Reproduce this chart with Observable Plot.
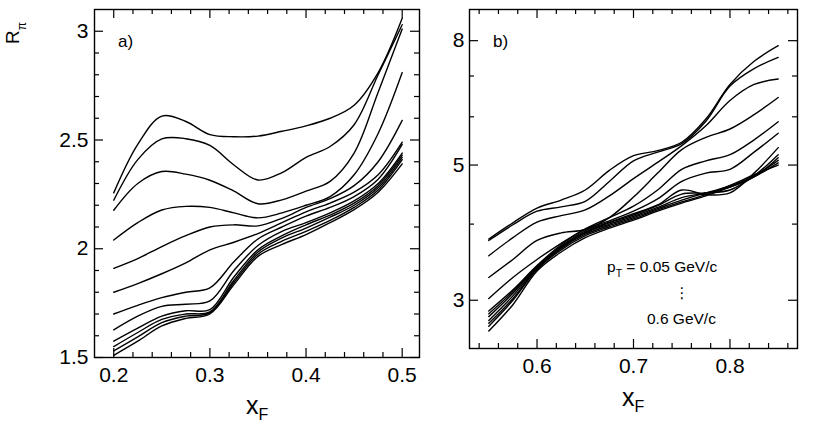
<!DOCTYPE html>
<html><head><meta charset="utf-8">
<script src="https://cdn.jsdelivr.net/npm/d3@7"></script>
<script src="https://cdn.jsdelivr.net/npm/@observablehq/plot@0.6"></script>
<style>
body{margin:0;background:#fff;}
#wrap{position:relative;width:817px;height:431px;overflow:hidden;background:#fff;}
#wrap svg{position:absolute;top:0;}
</style></head><body><div id="wrap"></div>
<script>
// ---- data ----
const ptLabels = ["0.05","0.10","0.15","0.20","0.25","0.30","0.35","0.40","0.45","0.50","0.55","0.60"];

// panel a) : x_F grid and R_pi per pT
const xA = [0.2,0.225,0.25,0.275,0.3,0.325,0.35,0.375,0.4,0.425,0.45,0.475,0.5];
const a01 = [2.257,2.48,2.61,2.585,2.525,2.515,2.518,2.54,2.565,2.6,2.66,2.81,3.06];
const a02 = [2.223,2.41,2.505,2.506,2.475,2.385,2.316,2.35,2.42,2.47,2.57,2.80,3.03];
const a03 = [2.177,2.30,2.355,2.343,2.315,2.265,2.207,2.225,2.265,2.31,2.44,2.72,3.01];
const a04 = [2.04,2.12,2.178,2.195,2.19,2.165,2.142,2.165,2.2,2.24,2.34,2.53,2.81];
const a05 = [1.91,1.955,2.01,2.06,2.10,2.11,2.105,2.14,2.19,2.23,2.29,2.40,2.59];
const a06 = [1.80,1.84,1.885,1.935,1.995,2.03,2.07,2.12,2.17,2.21,2.26,2.34,2.49];
const a07 = [1.70,1.74,1.775,1.80,1.82,1.94,2.045,2.10,2.15,2.19,2.24,2.32,2.48];
const a08 = [1.627,1.69,1.735,1.745,1.76,1.90,2.015,2.08,2.12,2.165,2.22,2.30,2.44];
const a09 = [1.575,1.635,1.69,1.715,1.72,1.87,1.995,2.06,2.11,2.155,2.21,2.29,2.43];
const a10 = [1.55,1.615,1.675,1.70,1.71,1.855,1.985,2.05,2.095,2.145,2.20,2.28,2.42];
const a11 = [1.53,1.595,1.66,1.69,1.705,1.845,1.975,2.035,2.08,2.13,2.19,2.27,2.41];
const a12 = [1.51,1.575,1.645,1.68,1.70,1.835,1.965,2.02,2.065,2.12,2.18,2.26,2.39];

// panel b)
const xB = [0.55,0.575,0.6,0.625,0.65,0.675,0.7,0.725,0.75,0.775,0.8,0.825,0.85];
const b01 = [3.78,4.02,4.25,4.38,4.55,4.9,5.18,5.28,5.45,5.95,6.78,7.4,7.85];
const b02 = [3.76,3.99,4.2,4.27,4.36,4.7,5.08,5.25,5.42,5.9,6.74,7.2,7.51];
const b03 = [3.55,3.8,4.03,4.13,4.22,4.45,4.75,5.05,5.38,5.8,6.38,6.78,6.92];
const b04 = [3.27,3.5,3.76,3.87,3.92,4.1,4.43,4.85,5.3,5.55,5.73,6.05,6.455];
const b05 = [3.02,3.27,3.5,3.72,3.93,4.1,4.28,4.55,4.92,5.08,5.2,5.5,5.89];
const b06 = [2.88,3.12,3.42,3.7,3.92,4.05,4.2,4.4,4.7,4.85,4.92,5.25,5.64];
const b07 = [2.85,3.1,3.41,3.68,3.9,4.03,4.16,4.3,4.55,4.47,4.5,4.85,5.34];
const b08 = [2.82,3.08,3.4,3.67,3.88,4.02,4.14,4.29,4.48,4.5,4.55,4.8,5.2];
const b09 = [2.78,3.05,3.39,3.66,3.87,4.0,4.12,4.26,4.42,4.5,4.6,4.78,5.14];
const b10 = [2.75,3.02,3.38,3.65,3.85,3.98,4.1,4.24,4.38,4.5,4.62,4.8,5.09];
const b11 = [2.72,3.0,3.37,3.63,3.83,3.96,4.08,4.22,4.35,4.47,4.63,4.82,5.0];
const b12 = [2.67,2.95,3.35,3.6,3.8,3.94,4.06,4.2,4.33,4.45,4.6,4.78,5.04];

// ticks
const xMajorA = [0.2,0.3,0.4,0.5];
const xMinorA = [0.22,0.24,0.26,0.28,0.32,0.34,0.36,0.38,0.42,0.44,0.46,0.48];
const yMajorA = [1.5,2,2.5,3];
const yMinorA = [1.6,1.7,1.8,1.9,2.1,2.2,2.3,2.4,2.6,2.7,2.8,2.9];
const xMajorB = [0.6,0.7,0.8];
const xMinorB = [0.54,0.56,0.58,0.62,0.64,0.66,0.68,0.72,0.74,0.76,0.78,0.82,0.84,0.86];
const yMajorB = [3,5,8];
const yMinorB = [4,6,7];

// ---- build tables ----
function toRows(xs, list) {
  const rows = [];
  list.forEach((ys, i) => ys.forEach((y, j) => rows.push({pt: ptLabels[i], x: xs[j], y})));
  return rows;
}
const rowsA = toRows(xA, [a01,a02,a03,a04,a05,a06,a07,a08,a09,a10,a11,a12]);
const rowsB = toRows(xB, [b01,b02,b03,b04,b05,b06,b07,b08,b09,b10,b11,b12]);

const FONT = "'Liberation Sans', Arial, Helvetica, sans-serif";

function panel(o) {
  const H = o.height - o.mt - o.mb;
  const W = o.width - o.ml - o.mr;
  const tk = {stroke: "black", strokeWidth: 1.2};
  return Plot.plot({
    width: o.width, height: o.height,
    marginLeft: o.ml, marginRight: o.mr, marginTop: o.mt, marginBottom: o.mb,
    x: {domain: o.xDomain, label: null},
    y: Object.assign({label: null}, o.yScale),
    style: {fontFamily: FONT, fontSize: "21px", color: "black", background: "white", overflow: "visible"},
    marks: [
      Plot.line(o.rows, {x: "x", y: "y", z: "pt", stroke: "black", strokeWidth: 1.4, curve: "catmull-rom", clip: true}),
      Plot.tickX(o.xMaj, {x: d => d, insetTop: H - 9, ...tk}),
      Plot.tickX(o.xMaj, {x: d => d, insetBottom: H - 9, ...tk}),
      Plot.tickX(o.xMin, {x: d => d, insetTop: H - 5, ...tk}),
      Plot.tickX(o.xMin, {x: d => d, insetBottom: H - 5, ...tk}),
      Plot.tickY(o.yMaj, {y: d => d, insetRight: W - 9, ...tk}),
      Plot.tickY(o.yMaj, {y: d => d, insetLeft: W - 9, ...tk}),
      Plot.tickY(o.yMin, {y: d => d, insetRight: W - 5, ...tk}),
      Plot.tickY(o.yMin, {y: d => d, insetLeft: W - 5, ...tk}),
      Plot.frame({stroke: "black", strokeWidth: 1.4}),
      Plot.axisX(o.xMaj, {tickSize: 0, tickPadding: 10, fontSize: 21, tickFormat: d => String(d), label: null}),
      Plot.axisY(o.yMaj, {tickSize: 0, tickPadding: o.yPad, fontSize: 21, tickFormat: d => String(d), label: null})
    ]
  });
}

const svgA = panel({width: 430, height: 431, ml: 94, mr: 11, mt: 9, mb: 74,
  xDomain: [0.18, 0.518], yScale: {domain: [1.5, 3.1]}, rows: rowsA,
  xMaj: xMajorA, xMin: xMinorA, yMaj: yMajorA, yMin: yMinorA, yPad: 6});
const svgB = panel({width: 387, height: 431, ml: 39, mr: 20, mt: 9, mb: 83,
  xDomain: [0.53, 0.87], yScale: {type: "log", domain: [2.5, 9]}, rows: rowsB,
  xMaj: xMajorB, xMin: xMinorB, yMaj: yMajorB, yMin: yMinorB, yPad: 5});

svgA.style.left = "0px";
svgB.style.left = "430px";
const wrap = document.getElementById("wrap");
wrap.appendChild(svgA);
wrap.appendChild(svgB);

// ---- labels ----
function addText(svg, x, y, parts, extra) {
  const t = d3.select(svg).append("text").attr("x", x).attr("y", y)
    .attr("fill", "black").attr("text-anchor", "start").style("font-family", FONT);
  if (extra) extra(t);
  parts.forEach(p => {
    const s = t.append("tspan").text(p.text).style("font-size", p.size + "px");
    if (p.dy) s.attr("dy", p.dy);
  });
  return t;
}
// panel a
addText(svgA, 118, 47, [{text: "a)", size: 17}]);
addText(svgA, 0, 0, [{text: "R", size: 19}, {text: "π", size: 12, dy: 7}],
  t => t.attr("transform", "translate(19,44) rotate(-90)"));
addText(svgA, 246, 414, [{text: "x", size: 25}, {text: "F", size: 16, dy: 6}]);
// panel b
addText(svgB, 63, 47, [{text: "b)", size: 17}]);
addText(svgB, 192, 406, [{text: "x", size: 25}, {text: "F", size: 16, dy: 6}]);
addText(svgB, 177, 272, [{text: "p", size: 15.5}, {text: "T", size: 10.5, dy: 5},
  {text: " = 0.05 GeV/c", size: 15.5, dy: -5}]);
addText(svgB, 252, 298, [{text: "⋮", size: 15}], t => t.attr("text-anchor", "middle").style("font-family", "'DejaVu Sans', sans-serif"));
addText(svgB, 217, 324, [{text: "0.6 GeV/c", size: 15.5}]);
</script></body></html>
